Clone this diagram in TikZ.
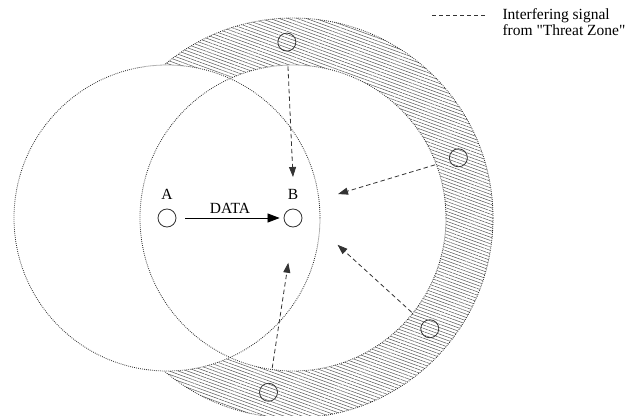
\documentclass[tikz,border=0pt]{standalone}
\usepackage{fontspec}
\setmainfont{Liberation Serif}
\usepackage{tikz}
\usetikzlibrary{arrows.meta,patterns.meta}
\definecolor{rangegray}{HTML}{2A2A2A}
\definecolor{hatchgray}{HTML}{555555}
\definecolor{darkgray}{HTML}{333333}

\tikzset{
  rangeline/.style={rangegray,line width=0.8pt,dash pattern=on 0.8pt off 1.2pt},
  station/.style={circle,draw=darkgray,line width=0.8pt,minimum size=18pt,inner sep=0pt},
  signal/.style={darkgray,line width=0.8pt,dash pattern=on 4.5pt off 3pt,
    -{Triangle[length=10pt,width=7pt]}},
  datalink/.style={black,line width=0.8pt,-{Triangle[length=12pt,width=9pt]}}
}

\begin{document}
\begin{tikzpicture}[x=10pt,y=10pt,font=\fontsize{15.5}{16.5}\selectfont]
  \useasboundingbox (-29.3,-19.7) rectangle (34.4,21.8);
  \coordinate (a) at (-12.6,0);
  \coordinate (b) at (0,0);
  % threat zone ring
  \path[fill=white,pattern={Lines[angle=-20,distance=3.1pt,line width=0.5pt]},
    pattern color=hatchgray] (b) circle (20);
  \draw[rangeline] (b) circle (20);
  \fill[white] (b) circle (15.3);
  \fill[white] (a) circle (15.3);
  \draw[rangeline] (b) circle (15.3);
  \draw[rangeline] (a) circle (15.3);
  % interferers
  \foreach \k/\ang/\tipang/\tiprad in {1/92/90/4.1, 2/20/28/5.1, 3/-39/-31/5.2, 4/-98/-96/4.5} {
    \node[station] (I\k) at (\ang:17.6) {};
    \coordinate (T\k) at (\tipang:\tiprad);
  }
  \begin{scope}
    \clip (b) circle (15.3);
    \foreach \k in {1,...,4}
      \draw[signal] (I\k) -- (T\k);
  \end{scope}
  % sender and receiver
  \node[station,label={[label distance=6pt]above:A}] (A) at (a) {};
  \node[station,label={[label distance=6pt]above:B}] (B) at (b) {};
  \draw[datalink,shorten <=9pt,shorten >=4pt] (A) -- node[above=1pt] {DATA} (B);
  % legend
  \node[anchor=west,align=left] (legend) at (20.6,19.6)
    {Interfering signal\\from \textquotedbl Threat Zone\textquotedbl};
  \coordinate (lg1) at (13.9,20.3);
  \coordinate (lg2) at (19.2,20.3);
  \draw[darkgray,line width=0.7pt,dash pattern=on 4pt off 3pt] (lg1) -- (lg2);
\end{tikzpicture}
\end{document}
